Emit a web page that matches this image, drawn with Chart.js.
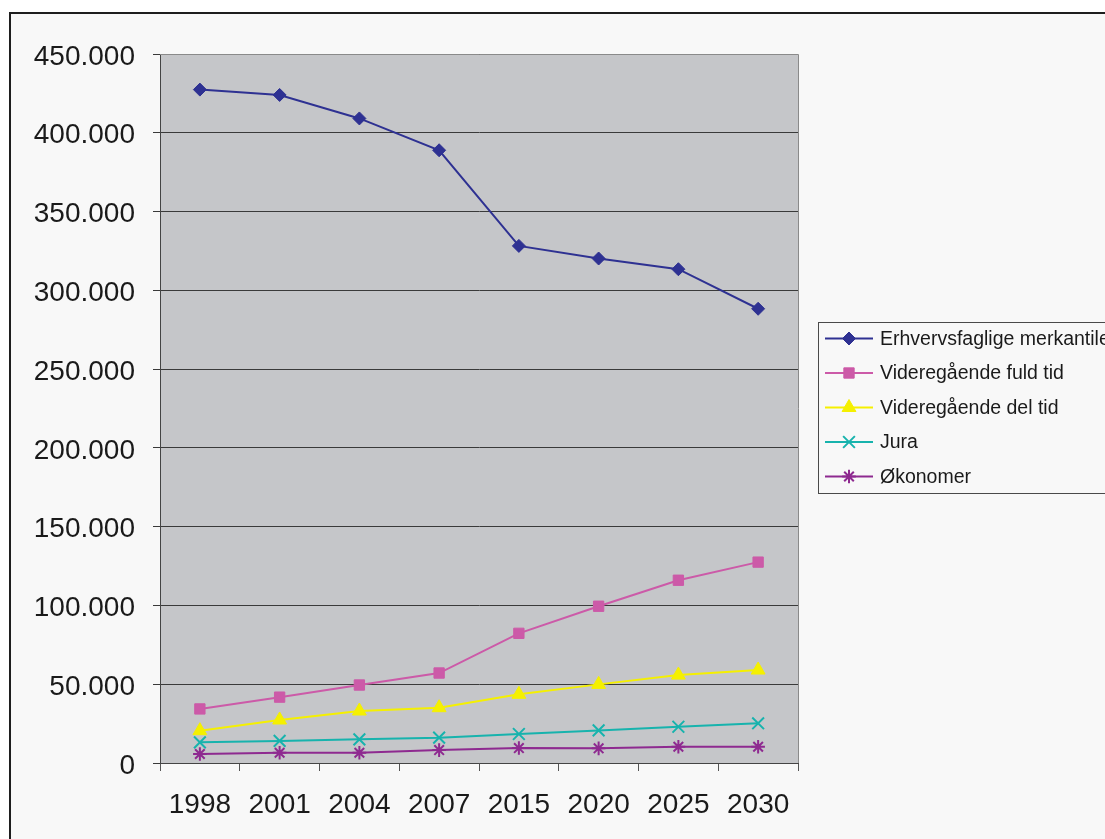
<!DOCTYPE html>
<html>
<head>
<meta charset="utf-8">
<script src="https://cdn.jsdelivr.net/npm/chart.js@4/dist/chart.umd.min.js"></script>
<style>
  html, body { margin: 0; padding: 0; background: #ffffff; overflow: hidden; width: 1105px; height: 839px; }
  #frame { position: absolute; left: 9px; top: 12px; width: 1200px; height: 900px; border: 2px solid #1e1e1e; background: #f8f8f8; }
  #c { position: absolute; left: 0; top: 0; }
</style>
</head>
<body>
<div id="frame"></div>
<canvas id="c" width="1105" height="839"></canvas>
<script>
const categories = ['1998', '2001', '2004', '2007', '2015', '2020', '2025', '2030'];
const seriesNames = ['Erhvervsfaglige merkantile', 'Videregående fuld tid', 'Videregående del tid', 'Jura', 'Økonomer'];
const erhverv = [427400, 424000, 409100, 388900, 328200, 320200, 313400, 288300];
const fuldTid = [34300, 41800, 49500, 57100, 82300, 99500, 116000, 127500];
const delTid = [20500, 27300, 33000, 35100, 43600, 49900, 55800, 59000];
const jura = [13100, 14000, 15000, 16100, 18400, 20700, 23000, 25200];
const okonomer = [5700, 6500, 6500, 8200, 9500, 9300, 10300, 10300];
const yMin = 0, yMax = 450000, yStep = 50000;

function fmt(v) {
  return String(Math.round(v)).replace(/\B(?=(\d{3})+(?!\d))/g, '.');
}

const FONT = "'Liberation Sans', Arial, sans-serif";

const styles = [
  { color: '#2e3192', pointStyle: 'rectRot', radius: 6.5 },
  { color: '#cc5aa8', pointStyle: 'rect', radius: 7.3 },
  { color: '#f5f000', pointStyle: 'triangle', radius: 8 },
  { color: '#17b3ad', pointStyle: 'crossRot', radius: 8.3 },
  { color: '#8e2a90', pointStyle: 'star', radius: 6.8 }
];
const values = [erhverv, fuldTid, delTid, jura, okonomer];

const datasets = values.map((d, i) => ({
  label: seriesNames[i],
  data: d,
  borderColor: styles[i].color,
  backgroundColor: styles[i].color,
  pointBackgroundColor: styles[i].color,
  pointBorderColor: styles[i].color,
  pointStyle: styles[i].pointStyle,
  pointRadius: styles[i].radius,
  pointHoverRadius: styles[i].radius,
  pointBorderWidth: (styles[i].pointStyle === 'crossRot' || styles[i].pointStyle === 'star') ? 2 : 1,
  borderWidth: 2,
  tension: 0,
  fill: false
}));

const plotBg = {
  id: 'plotBg',
  beforeDraw(chart) {
    const { ctx, chartArea: a } = chart;
    ctx.save();
    ctx.fillStyle = '#c5c6c9';
    ctx.fillRect(a.left, a.top, a.right - a.left, a.bottom - a.top);
    ctx.restore();
  },
  afterDraw(chart) {
    const { ctx, chartArea: a } = chart;
    ctx.save();
    ctx.strokeStyle = '#8a8a8a';
    ctx.lineWidth = 1;
    ctx.beginPath();
    ctx.moveTo(a.left, a.top + 0.5);
    ctx.lineTo(a.right + 0.5, a.top + 0.5);
    ctx.lineTo(a.right + 0.5, a.bottom);
    ctx.stroke();
    ctx.restore();
  }
};

const customLegend = {
  id: 'customLegend',
  afterDraw(chart) {
    const ctx = chart.ctx;
    const x0 = 818.5, y0 = 322.5, w = 320, h = 171;
    ctx.save();
    ctx.fillStyle = '#f8f8f8';
    ctx.fillRect(x0, y0, w, h);
    ctx.strokeStyle = '#4a4a4a';
    ctx.lineWidth = 1;
    ctx.strokeRect(x0, y0, w, h);
    const gap = 34.5;
    chart.data.datasets.forEach((ds, i) => {
      const y = 338.5 + i * gap;
      ctx.strokeStyle = ds.borderColor;
      ctx.fillStyle = ds.borderColor;
      ctx.lineWidth = 2;
      ctx.beginPath();
      ctx.moveTo(825, y);
      ctx.lineTo(873, y);
      ctx.stroke();
      ctx.lineWidth = ds.pointBorderWidth;
      Chart.helpers.drawPoint(ctx, { pointStyle: ds.pointStyle, radius: ds.pointRadius, rotation: 0, borderWidth: ds.pointBorderWidth }, 849, y);
      ctx.fillStyle = '#1a1a1a';
      ctx.font = '19.5px ' + FONT;
      ctx.textBaseline = 'middle';
      ctx.textAlign = 'left';
      ctx.fillText(ds.label, 880, y + 1);
    });
    ctx.restore();
  }
};

new Chart(document.getElementById('c'), {
  type: 'line',
  data: { labels: categories, datasets },
  plugins: [plotBg, customLegend],
  options: {
    responsive: false,
    animation: false,
    events: [],
    layout: { padding: { left: 10, top: 54, right: 307, bottom: 0 } },
    plugins: { legend: { display: false }, tooltip: { enabled: false } },
    scales: {
      x: {
        type: 'category',
        offset: true,
        grid: { offset: true, drawOnChartArea: false, drawTicks: true, tickLength: 8, color: '#555555', lineWidth: 1 },
        border: { display: true, color: '#444444', width: 1 },
        ticks: { color: '#1a1a1a', font: { family: FONT, size: 28 }, padding: 17, maxRotation: 0, autoSkip: false },
        afterFit(scale) { scale.height = 76; }
      },
      y: {
        min: yMin,
        max: yMax,
        grid: { color: '#3a3a3a', lineWidth: 1, tickLength: 7, drawTicks: true },
        border: { display: true, color: '#444444', width: 1 },
        ticks: {
          stepSize: yStep,
          color: '#1a1a1a',
          font: { family: FONT, size: 28 },
          padding: 18,
          labelOffset: 3,
          callback: (v) => fmt(v)
        },
        afterFit(scale) { scale.width = 150; }
      }
    }
  }
});
</script>
</body>
</html>
